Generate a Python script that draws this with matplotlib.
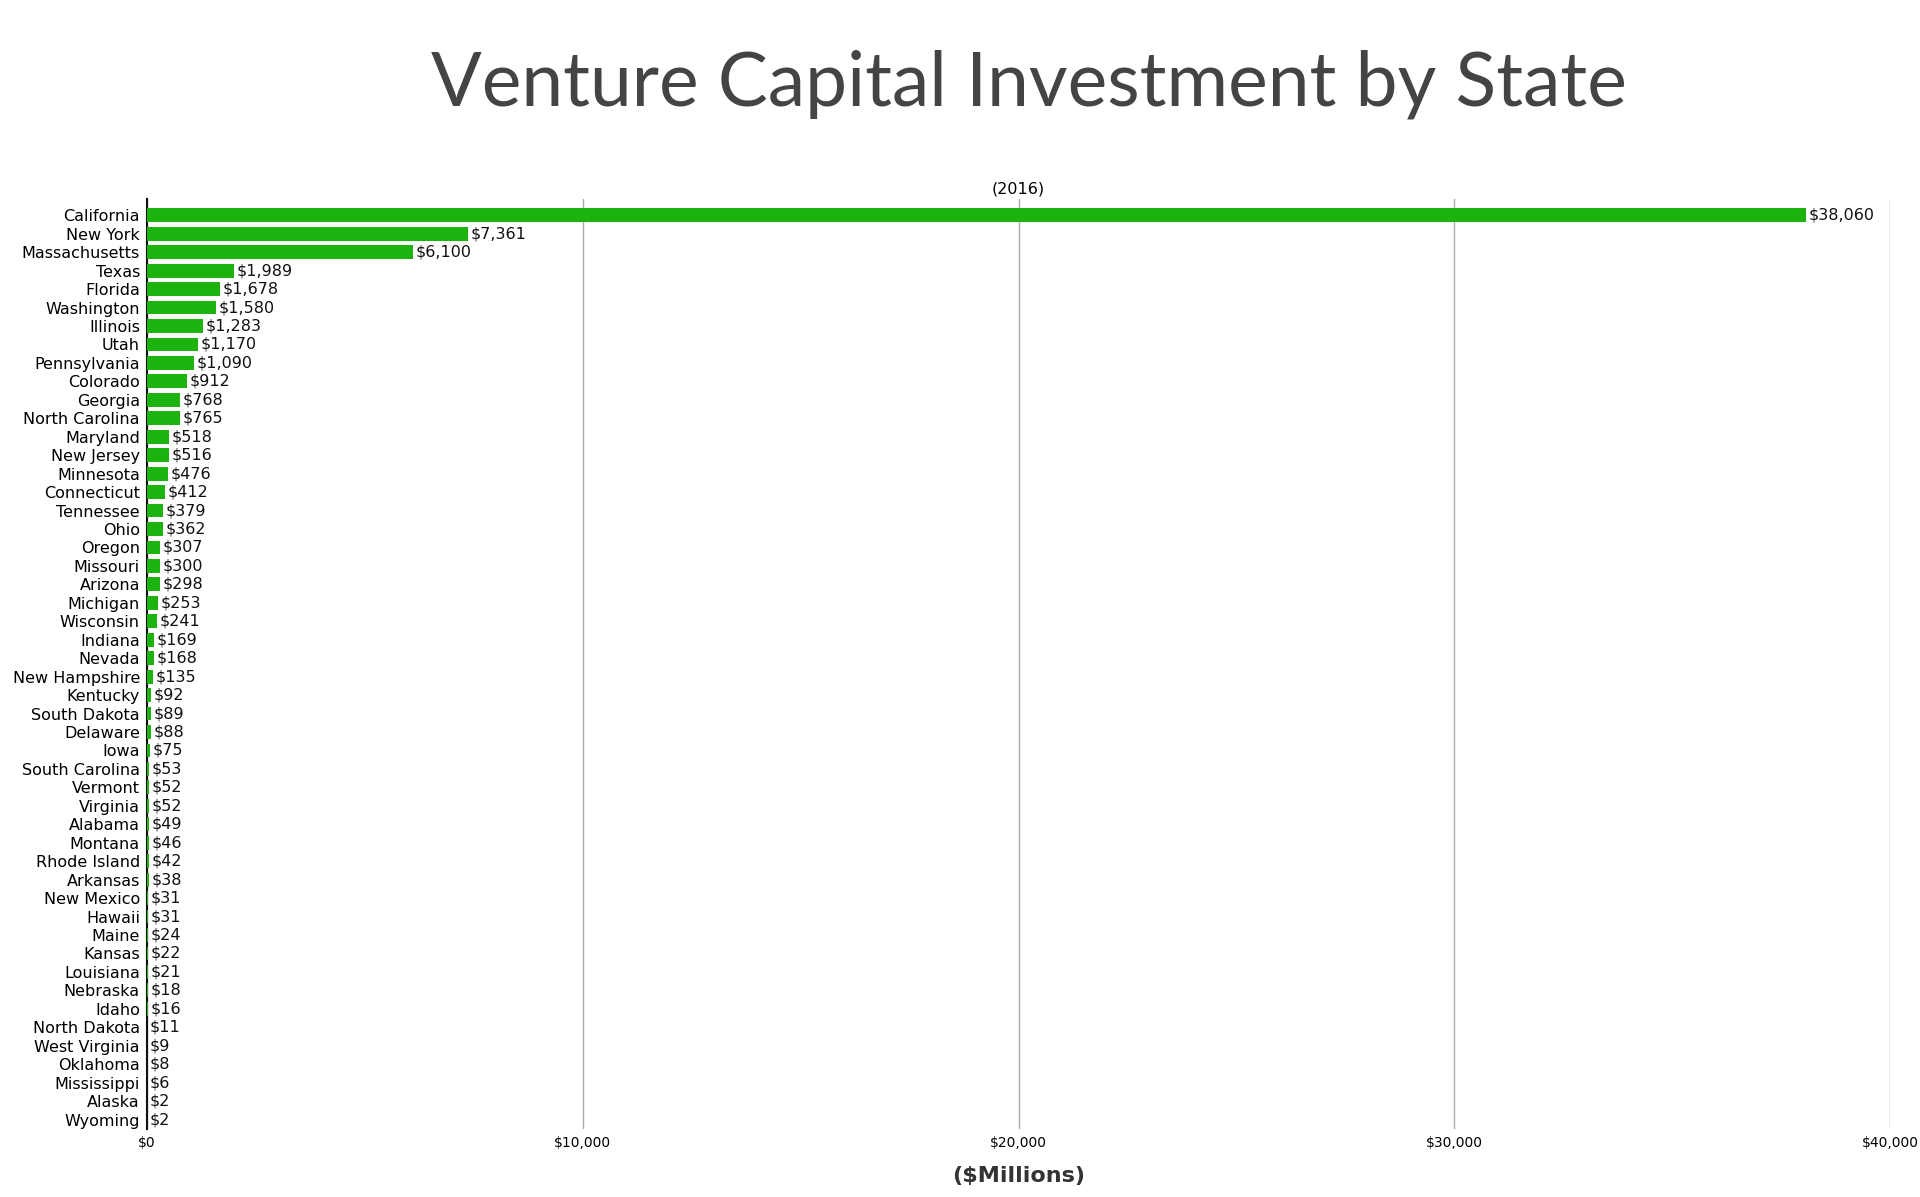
import matplotlib
matplotlib.use("Agg")
import matplotlib.pyplot as plt

states = ["California","New York","Massachusetts","Texas","Florida","Washington","Illinois","Utah",
"Pennsylvania","Colorado","Georgia","North Carolina","Maryland","New Jersey","Minnesota","Connecticut",
"Tennessee","Ohio","Oregon","Missouri","Arizona","Michigan","Wisconsin","Indiana","Nevada","New Hampshire",
"Kentucky","South Dakota","Delaware","Iowa","South Carolina","Vermont","Virginia","Alabama","Montana",
"Rhode Island","Arkansas","New Mexico","Hawaii","Maine","Kansas","Louisiana","Nebraska","Idaho",
"North Dakota","West Virginia","Oklahoma","Mississippi","Alaska","Wyoming"]
values = [38060,7361,6100,1989,1678,1580,1283,1170,1090,912,768,765,518,516,476,412,379,362,307,300,298,
253,241,169,168,135,92,89,88,75,53,52,52,49,46,42,38,31,31,24,22,21,18,16,11,9,8,6,2,2]
xticks = [0,10000,20000,30000,40000]

fig = plt.figure(figsize=(19.2,11.97), dpi=100)
ax = fig.add_axes([0.0765,0.057,0.908,0.777])
y = list(range(len(states)))
ax.barh(y, values, height=0.75, color="#1db30f", zorder=3)
for yi, v in zip(y, values):
    ax.text(v+60, yi, f"${v:,}", va="center", ha="left", fontsize=11.5, color="#111")
ax.set_yticks(y)
ax.set_yticklabels(states, fontsize=11.5)
ax.set_ylim(len(states)-0.5, -0.9)
ax.set_xlim(0, 40000)
ax.set_xticks(xticks)
ax.set_xticklabels([f"${t:,}" for t in xticks], fontsize=10)
ax.grid(axis="x", color="#aaa", lw=1, zorder=0)
for s in ["top","right","bottom"]:
    ax.spines[s].set_visible(False)
ax.spines["left"].set_color("#111")
ax.spines["left"].set_linewidth(1.5)
ax.tick_params(axis="both", length=0, pad=5)
ax.set_xlabel("($Millions)", fontsize=16, fontweight="bold", color="#333", labelpad=12)
ax.set_title("(2016)", fontsize=11.5, pad=4)
fig.text(0.536, 0.93, "Venture Capital Investment by State", ha="center", va="center",
         fontsize=54, color="#444", family="Lato")
fig.savefig("out.png", dpi=100, facecolor="white")
